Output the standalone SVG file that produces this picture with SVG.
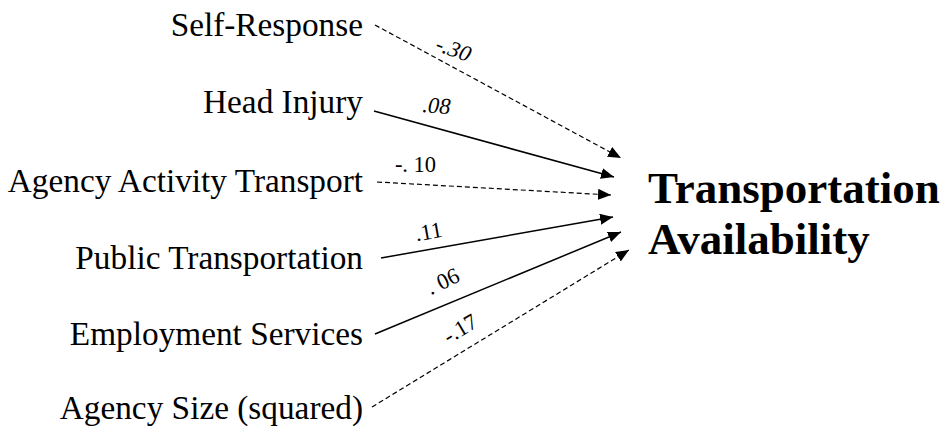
<svg xmlns="http://www.w3.org/2000/svg" width="943" height="430" viewBox="0 0 943 430">
<style>
.lbl{font-family:"Liberation Serif","Times New Roman",serif;font-size:33.3px;fill:#000;text-anchor:end}
.ttl{font-family:"Liberation Serif","Times New Roman",serif;font-size:45px;font-weight:bold;fill:#000}
.coef{font-family:"Liberation Serif","Times New Roman",serif;font-size:22.5px;fill:#000;text-anchor:middle}
.it{font-style:italic}
.solid{stroke:#000;stroke-width:1.5;fill:none}
.dash{stroke:#000;stroke-width:1.2;fill:none;stroke-dasharray:5 3}
</style>
<defs>
<marker id="ah" markerUnits="userSpaceOnUse" markerWidth="14" markerHeight="12" refX="13" refY="5.5" orient="auto">
<path d="M0,0 L13,5.5 L0,11 Z" fill="#000"/>
</marker>
</defs>
<rect width="943" height="430" fill="#fff"/>
<g id="n-self"><text class="lbl" x="363" y="35.5">Self-Response</text></g>
<g id="n-head"><text class="lbl" x="363" y="113">Head Injury</text></g>
<g id="n-aat"><text class="lbl" x="363" y="191.5">Agency Activity Transport</text></g>
<g id="n-pub"><text class="lbl" x="363" y="268.5">Public Transportation</text></g>
<g id="n-emp"><text class="lbl" x="363" y="344.5">Employment Services</text></g>
<g id="n-size"><text class="lbl" x="363" y="418.5">Agency Size (squared)</text></g>
<g id="n-target">
<text class="ttl" x="648" y="203">Transportation</text>
<text class="ttl" x="648" y="254">Availability</text>
</g>
<g id="connectors">
<line class="dash" x1="375" y1="25" x2="621" y2="158" marker-end="url(#ah)"/>
<line class="solid" x1="374" y1="111" x2="614" y2="177" marker-end="url(#ah)"/>
<line class="dash" x1="377" y1="182" x2="611" y2="195" marker-end="url(#ah)"/>
<line class="solid" x1="381" y1="258" x2="613" y2="217" marker-end="url(#ah)"/>
<line class="solid" x1="375" y1="334" x2="621" y2="232" marker-end="url(#ah)"/>
<line class="dash" x1="372" y1="407" x2="629" y2="250" marker-end="url(#ah)"/>
<text class="coef it" transform="translate(451,56) rotate(20)">-.30</text>
<text class="coef it" transform="translate(436,113) rotate(4)">.08</text>
<text class="coef" transform="translate(415.5,172)">-. 10</text>
<text class="coef" transform="translate(430,239) rotate(-10)">.11</text>
<text class="coef" transform="translate(446,288) rotate(-25)">. 06</text>
<text class="coef" transform="translate(464,335) rotate(-31)">-.17</text>
</g>
</svg>
